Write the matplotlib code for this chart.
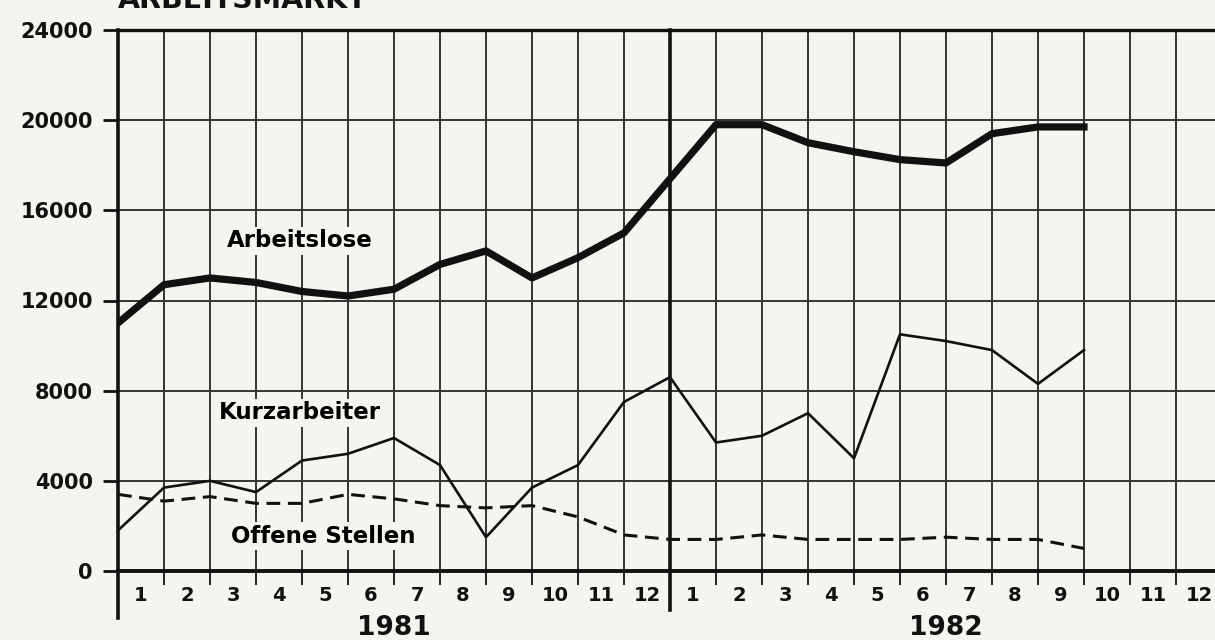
import matplotlib.pyplot as plt

plt.rcParams['font.family'] = ['DejaVu Sans']
plt.rcParams['font.weight'] = 'bold'

# Werte jeweils am Monatsende, Punkt 0 = Anfang 1981, Punkt 21 = Ende Sep 1982
arbeitslose = [11000, 12700, 13000, 12800, 12400, 12200, 12500, 13600, 14200, 13000, 13900, 15000, 17400,
               19800, 19800, 19000, 18600, 18250, 18100, 19400, 19700, 19700]
kurzarbeiter = [1800, 3700, 4000, 3500, 4900, 5200, 5900, 4700, 1500, 3700, 4700, 7500, 8600,
                5700, 6000, 7000, 5000, 10500, 10200, 9800, 8300, 9800]
offene_stellen = [3400, 3100, 3300, 3000, 3000, 3400, 3200, 2900, 2800, 2900, 2400, 1600, 1400,
                  1400, 1600, 1400, 1400, 1400, 1500, 1400, 1400, 1000]
monate = [str(m) for m in range(1, 13)] * 2
jahre = ['1981', '1982']
y_ticks = [0, 4000, 8000, 12000, 16000, 20000, 24000]
y_labels = ['0', '4000', '8000', '12000', '16000', '20000', '24000']

bg = '#f3f6ee'
ink = '#111111'
grid = '#333333'

fig = plt.figure(figsize=(12.15, 6.4), dpi=100, facecolor=bg)
ax = fig.add_axes([118 / 1215, 1 - 571 / 640, 1104 / 1215, 541 / 640])
ax.set_facecolor(bg)

x = list(range(len(arbeitslose)))

# --- Raster ---
for i in range(1, 24):
    if i == 12:
        continue
    ax.axvline(i, color=grid, lw=1.4, zorder=1)
for v in y_ticks[1:-1]:
    ax.axhline(v, color=grid, lw=1.4, zorder=1)

# Jahresgrenze und linke Achse nach unten verlaengert
ax.plot([12, 12], [-1750, 24000], color=ink, lw=2.6, clip_on=False, zorder=3)
ax.plot([0, 0], [-2100, 24000], color=ink, lw=2.6, clip_on=False, zorder=3)

# --- Kurven ---
ax.plot(x, arbeitslose, color=ink, lw=5.2, solid_joinstyle='round', zorder=4)
ax.plot(x, kurzarbeiter, color=ink, lw=1.9, zorder=4)
ax.plot(x, offene_stellen, color=ink, lw=2.2, dashes=(4.5, 2.5), zorder=4)

# --- Beschriftungen ---
box = dict(facecolor=bg, edgecolor='none', pad=2)
ax.text(3.96, 14640, 'Arbeitslose', ha='center', va='center', fontsize=16.5, bbox=box, zorder=2)
ax.text(3.96, 7010, 'Kurzarbeiter', ha='center', va='center', fontsize=16.5, bbox=box, zorder=2)
ax.text(4.46, 1550, 'Offene Stellen', ha='center', va='center', fontsize=16.5, bbox=box, zorder=2)

ax.set_xlim(0, 24)
ax.set_ylim(0, 24000)

ax.spines['right'].set_visible(False)
ax.spines['left'].set_visible(False)
ax.spines['top'].set_linewidth(2.4)
ax.spines['bottom'].set_linewidth(2.8)
ax.spines['top'].set_color(ink)
ax.spines['bottom'].set_color(ink)

ax.set_yticks(y_ticks)
ax.set_yticklabels(y_labels)
ax.tick_params(axis='y', length=11, width=2, pad=7, labelsize=15, colors=ink)

ax.set_xticks([i for i in range(1, 24) if i != 12])
ax.set_xticklabels([])
ax.set_xticks([i + 0.5 for i in range(24)], minor=True)
ax.set_xticklabels(monate, minor=True)
ax.tick_params(axis='x', which='major', length=10, width=1.3, colors=ink)
ax.tick_params(axis='x', which='minor', length=0, pad=11, labelsize=14, labelcolor=ink)

for k, jahr in enumerate(jahre):
    ax.text(6 + 12 * k, -0.082, jahr, transform=ax.get_xaxis_transform(),
            ha='center', va='top', fontsize=19, color=ink)

# Titel ist im Original oben angeschnitten
fig.text(118 / 1215, 1 - 8 / 640, 'ARBEITSMARKT', ha='left', va='baseline',
         fontsize=20.5, color=ink)

fig.savefig('out.png', dpi=100, facecolor=bg)
